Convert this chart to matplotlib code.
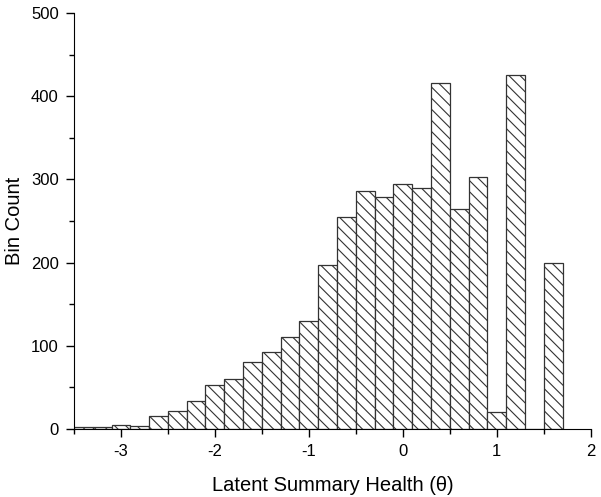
import numpy as np
import matplotlib.pyplot as plt
from matplotlib.ticker import MultipleLocator

plt.rcParams['font.family'] = ['Liberation Sans', 'DejaVu Sans']
plt.rcParams['axes.unicode_minus'] = False
plt.rcParams['hatch.linewidth'] = 0.8

# histogram bins (width 0.2) and counts
bin_edges = np.round(np.arange(-3.5, 1.71, 0.2), 2)
counts = [2, 2, 5, 3, 15, 21, 34, 53, 60, 80, 93, 110, 130, 197,
          255, 286, 279, 294, 289, 416, 264, 303, 20, 425, 0, 199]
x_ticks = [-3, -2, -1, 0, 1, 2]
y_ticks = [0, 100, 200, 300, 400, 500]

fig = plt.figure(figsize=(6.01, 4.97), dpi=100)
ax = fig.add_axes([0.123, 0.137, 0.860, 0.837])

widths = np.diff(bin_edges)
ax.bar(bin_edges[:-1], counts, width=widths, align='edge',
       facecolor='white', edgecolor='#333333', linewidth=0.9, hatch='\\\\\\')

ax.set_xlim(-3.5, 2)
ax.set_ylim(0, 500)
ax.set_xticks(x_ticks)
ax.set_yticks(y_ticks)
ax.xaxis.set_minor_locator(MultipleLocator(0.5))
ax.yaxis.set_minor_locator(MultipleLocator(50))
ax.tick_params(which='major', direction='out', length=6, width=1, labelsize=12, pad=5)
ax.tick_params(which='minor', direction='out', length=3.5, width=1)

ax.spines['top'].set_visible(False)
ax.spines['right'].set_visible(False)

ax.set_xlabel('Latent Summary Health (θ)', fontsize=14.5, labelpad=12)
ax.set_ylabel('Bin Count', fontsize=14.5, labelpad=5)

fig.savefig('out.png', dpi=100)
